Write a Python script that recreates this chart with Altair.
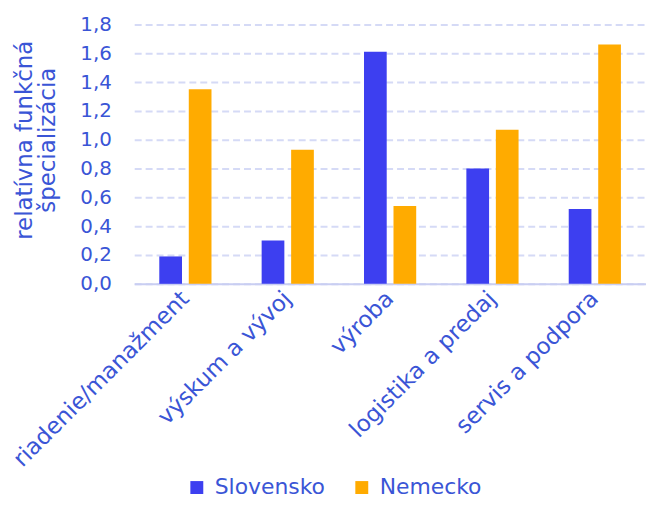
import altair as alt
import pandas as pd

categories = ["riadenie/manažment", "výskum a vývoj", "výroba", "logistika a predaj", "servis a podpora"]
series = ["Slovensko", "Nemecko"]
slovensko = [0.19, 0.30, 1.61, 0.80, 0.52]
nemecko = [1.35, 0.93, 0.54, 1.07, 1.66]

rows = []
for c, s, n in zip(categories, slovensko, nemecko):
    rows.append({"kat": c, "krajina": "Slovensko", "val": s})
    rows.append({"kat": c, "krajina": "Nemecko", "val": n})
df = pd.DataFrame(rows)

TXT = "#3a55d6"
FONT = "DejaVu Sans"

chart = alt.Chart(df).mark_bar().encode(
    x=alt.X("kat:N", sort=categories,
            scale=alt.Scale(paddingInner=0.49, paddingOuter=0.245),
            axis=alt.Axis(title=None, labelAngle=-45, labelAlign="right", labelBaseline="middle",
                          labelFontSize=23, labelColor=TXT, labelFont=FONT, ticks=False,
                          domainColor="#c9cef2", domainWidth=2, labelPadding=11, labelLimit=400)),
    xOffset=alt.XOffset("krajina:N", sort=series,
                        scale=alt.Scale(paddingInner=0.23, paddingOuter=0)),
    y=alt.Y("val:Q", scale=alt.Scale(domain=[0, 1.8]),
            axis=alt.Axis(title=["relatívna funkčná", "špecializácia"], titleFontSize=23,
                          titleColor=TXT, titleFont=FONT, titleFontWeight="normal",
                          titleLineHeight=24, titleY=116,
                          values=[0, 0.2, 0.4, 0.6, 0.8, 1.0, 1.2, 1.4, 1.6, 1.8],
                          labelExpr="replace(format(datum.value, '.1f'), '.', ',')",
                          labelFontSize=20, labelColor=TXT, labelFont=FONT, ticks=False,
                          domain=False, gridColor="#d5daf6", gridDash=[7, 4], gridWidth=2,
                          labelPadding=23, titlePadding=20)),
    color=alt.Color("krajina:N", sort=series,
                    scale=alt.Scale(domain=series, range=["#3d3ff0", "#ffab00"]),
                    legend=alt.Legend(title=None, orient="none", direction="horizontal",
                                      legendX=52, legendY=455, padding=0,
                                      symbolType="square", symbolSize=169, symbolStrokeWidth=0,
                                      symbolOpacity=1, labelOffset=7,
                                      labelFontSize=22, labelColor=TXT, labelFont=FONT,
                                      columnPadding=26)),
).properties(
    width=515, height=261,
    autosize=alt.AutoSizeParams(type="none"),
    padding={"left": 127, "top": 15, "right": 0, "bottom": 216},
).configure_view(stroke=None)

chart.save("out.html", embed_options={"renderer": "svg", "actions": False})
